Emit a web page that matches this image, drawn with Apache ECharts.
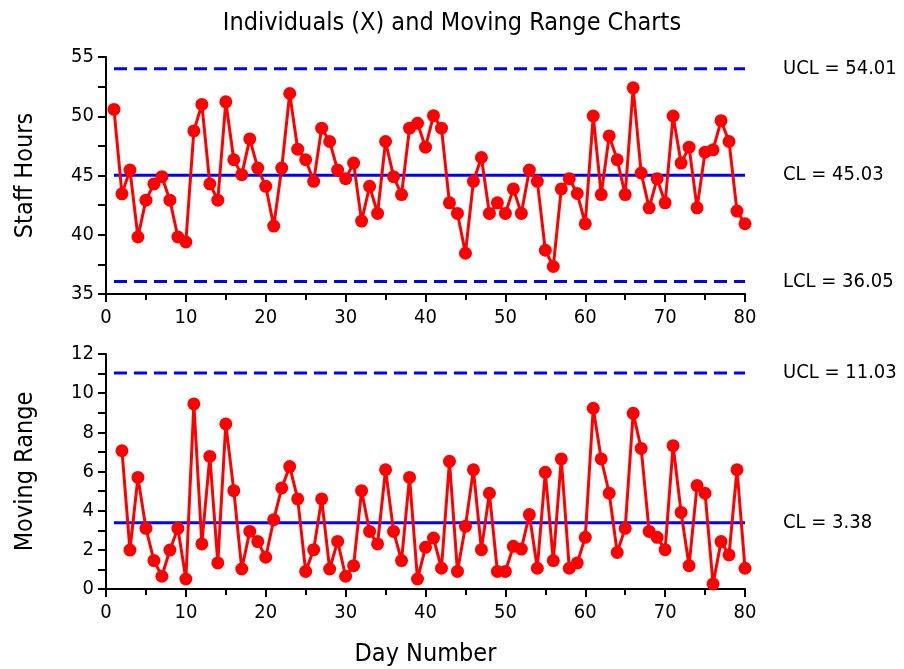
<!DOCTYPE html>
<html><head><meta charset="utf-8">
<script src="https://cdn.jsdelivr.net/npm/echarts@6/dist/echarts.min.js"></script>
<style>html,body{margin:0;padding:0;background:#fff}#c{width:904px;height:669px}</style>
</head><body><div id="c"></div>
<script>
const days = [1,2,3,4,5,6,7,8,9,10,11,12,13,14,15,16,17,18,19,20,21,22,23,24,25,26,27,28,29,30,31,32,33,34,35,36,37,38,39,40,41,42,43,44,45,46,47,48,49,50,51,52,53,54,55,56,57,58,59,60,61,62,63,64,65,66,67,68,69,70,71,72,73,74,75,76,77,78,79,80];
const staffHours = [50.58,43.45,45.46,39.81,42.92,44.29,44.9,42.92,39.81,39.39,48.76,51.0,44.29,42.92,51.22,46.33,45.07,48.09,45.63,44.09,40.73,45.63,51.92,47.22,46.33,44.51,48.99,47.87,45.46,44.73,46.05,41.15,44.09,41.8,47.87,44.9,43.39,48.99,49.41,47.39,50.05,48.99,42.69,41.8,38.44,44.51,46.52,41.8,42.69,41.8,43.87,41.8,45.46,44.51,38.69,37.32,43.87,44.73,43.48,40.93,50.02,43.39,48.34,46.33,43.39,52.4,45.21,42.27,44.73,42.69,50.02,46.05,47.39,42.27,46.97,47.17,49.63,47.87,42.0,40.93];
const mrDays = [2,3,4,5,6,7,8,9,10,11,12,13,14,15,16,17,18,19,20,21,22,23,24,25,26,27,28,29,30,31,32,33,34,35,36,37,38,39,40,41,42,43,44,45,46,47,48,49,50,51,52,53,54,55,56,57,58,59,60,61,62,63,64,65,66,67,68,69,70,71,72,73,74,75,76,77,78,79,80];
const movingRange = [7.06,1.99,5.70,3.10,1.45,0.65,1.99,3.10,0.51,9.45,2.30,6.77,1.33,8.43,5.02,1.02,2.94,2.42,1.62,3.54,5.16,6.25,4.60,0.90,2.01,4.60,1.02,2.43,0.65,1.19,5.02,2.94,2.30,6.09,2.94,1.45,5.70,0.51,2.13,2.60,1.06,6.52,0.90,3.20,6.09,2.01,4.89,0.90,0.90,2.18,2.04,3.80,1.06,5.96,1.45,6.64,1.06,1.33,2.64,9.23,6.64,4.89,1.87,3.10,8.97,7.18,2.94,2.64,2.01,7.32,3.91,1.19,5.28,4.89,0.26,2.42,1.74,6.09,1.06];
const xLimits = {ucl:54.01, cl:45.03, lcl:36.05};
const mrLimits = {ucl:11.03, cl:3.38};
const xTicks = {min:0, max:80, interval:10};
const topTicks = {min:35, max:55, interval:5};
const botTicks = {min:0, max:12, interval:2};

const FONT = "'Liberation Sans Narrow','Arial Narrow','DejaVu Sans Condensed',sans-serif";
const chart = echarts.init(document.getElementById('c'), null, {renderer:'canvas'});

function xAxis(gi, name){
  return {gridIndex:gi, type:'value', min:xTicks.min, max:xTicks.max, interval:xTicks.interval,
    name:name||'', nameLocation:'middle', nameGap:53,
    nameTextStyle:{fontSize:25, color:'#000', fontFamily:FONT},
    axisLine:{onZero:false, lineStyle:{color:'#000', width:2}},
    axisTick:{length:8, lineStyle:{color:'#000', width:2}},
    minorTick:{show:true, splitNumber:2, length:6, lineStyle:{color:'#000', width:2}},
    splitLine:{show:false},
    axisLabel:{fontSize:20, color:'#000', fontFamily:FONT, margin:14}};
}
function yAxis(gi, t, name){
  return {gridIndex:gi, type:'value', min:t.min, max:t.max, interval:t.interval,
    name:name, nameLocation:'middle', nameGap:68,
    nameTextStyle:{fontSize:25, color:'#000', fontFamily:FONT},
    axisLine:{show:true, onZero:false, lineStyle:{color:'#000', width:2}},
    axisTick:{length:8, lineStyle:{color:'#000', width:2}},
    minorTick:{show:true, splitNumber:2, length:8, lineStyle:{color:'#000', width:2}},
    splitLine:{show:false},
    axisLabel:{fontSize:20, color:'#000', fontFamily:FONT, margin:12}};
}
function limitLine(gi, value, label, dashed){
  return {type:'line', xAxisIndex:gi, yAxisIndex:gi, data:[[days[0], value],[days[days.length-1], value]],
    symbol:'none', silent:true, z:2,
    lineStyle:{color:'#0000ff', width:3, type: dashed ? [13,7] : 'solid'},
    endLabel:{show:true, formatter:label, distance:38, color:'#000', fontSize:20, fontFamily:FONT}};
}
function dataLine(gi, xs, ys){
  return {type:'line', xAxisIndex:gi, yAxisIndex:gi, data:xs.map((d,i)=>[d, ys[i]]),
    symbol:'circle', symbolSize:13, z:5,
    itemStyle:{color:'#ff0000'}, lineStyle:{color:'#ff0000', width:3}};
}

chart.setOption({
  animation:false,
  backgroundColor:'#fff',
  title:{text:'Individuals (X) and Moving Range Charts', left:'center', top:6,
    textStyle:{fontSize:25, fontWeight:'normal', color:'#000', fontFamily:FONT}},
  grid:[{left:106, width:639, top:57, height:237},{left:106, width:639, top:354, height:235}],
  xAxis:[xAxis(0), xAxis(1,'Day Number')],
  yAxis:[yAxis(0, topTicks, 'Staff Hours'), yAxis(1, botTicks, 'Moving Range')],
  series:[
    limitLine(0, xLimits.ucl, 'UCL = ' + xLimits.ucl.toFixed(2), true),
    limitLine(0, xLimits.cl, 'CL = ' + xLimits.cl.toFixed(2), false),
    limitLine(0, xLimits.lcl, 'LCL = ' + xLimits.lcl.toFixed(2), true),
    dataLine(0, days, staffHours),
    limitLine(1, mrLimits.ucl, 'UCL = ' + mrLimits.ucl.toFixed(2), true),
    limitLine(1, mrLimits.cl, 'CL = ' + mrLimits.cl.toFixed(2), false),
    dataLine(1, mrDays, movingRange)
  ]
});
</script></body></html>
